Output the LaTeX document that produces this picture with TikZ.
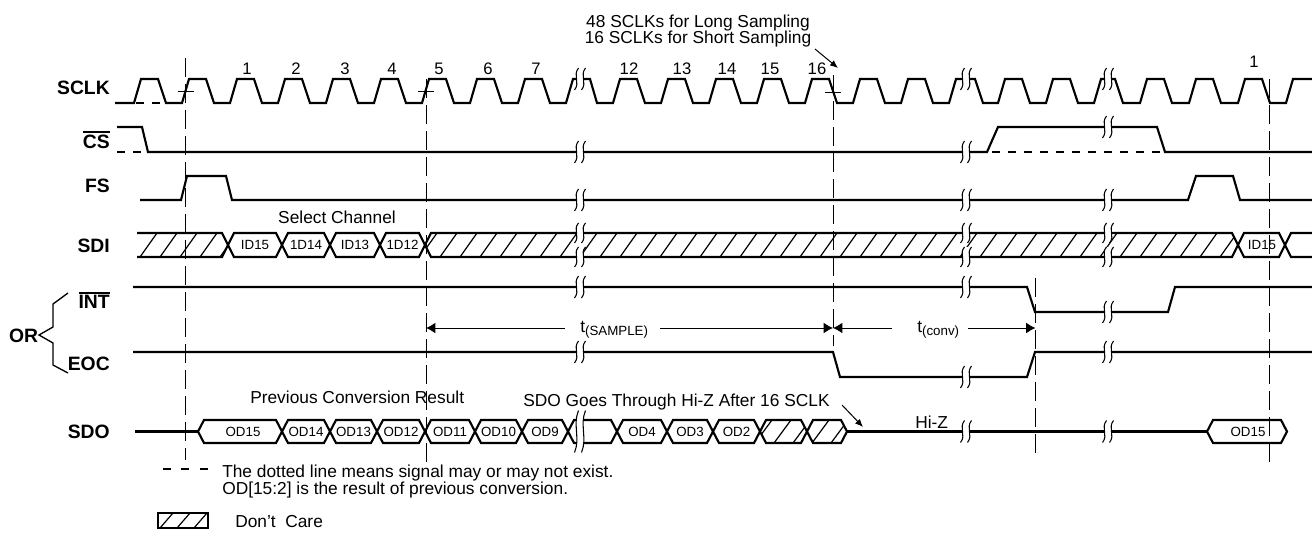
\documentclass[tikz,border=0pt]{standalone}
\usepackage{fontspec}
\setmainfont{Liberation Sans}
\usetikzlibrary{arrows.meta}
\newcommand\myovl[1]{\setbox0=\hbox{#1}\rlap{\rule[\dimexpr\ht0+1.2pt\relax]{\wd0}{1.3pt}}\box0}
\newcommand\brk[3]{%
  \fill[white] ({#1-1.5},{#2-#3}) .. controls ({#1-7.5},{#2-#3/3}) and ({#1+0.5},{#2+#3/3}) .. ({#1-5.5},{#2+#3})
     -- ({#1+1.5},{#2+#3}) .. controls ({#1+7.5},{#2+#3/3}) and ({#1-0.5},{#2-#3/3}) .. ({#1+5.5},{#2-#3}) -- cycle;
  \draw[brkline] ({#1-1.5},{#2-#3}) .. controls ({#1-7.5},{#2-#3/3}) and ({#1+0.5},{#2+#3/3}) .. ({#1-5.5},{#2+#3});
  \draw[brkline] ({#1+5.5},{#2-#3}) .. controls ({#1-0.5},{#2-#3/3}) and ({#1+7.5},{#2+#3/3}) .. ({#1+1.5},{#2+#3});
}
\newcommand\dbox[4]{%
  \draw[sig] (#1,{(#3+#4)/2}) -- ({#1+6},#3) -- ({#2-6},#3) -- (#2,{(#3+#4)/2}) -- ({#2-6},#4) -- ({#1+6},#4) -- cycle;}
\tikzset{
 sig/.style={line width=1.6pt, line join=miter, line cap=butt},
 hatchln/.style={line width=0.9pt},
 brkline/.style={line width=0.8pt},
 vdash/.style={line width=0.65pt, dash pattern=on 14pt off 5.5pt},
 cdash/.style={line width=1.6pt, dash pattern=on 6pt off 6pt},
 thinarr/.style={line width=0.75pt},
 lbl/.style={font=\fontsize{14.5}{16}\selectfont\bfseries, anchor=east, inner sep=0pt},
 txt/.style={font=\fontsize{13}{15}\selectfont, inner sep=0pt},
 num/.style={font=\fontsize{12.5}{14}\selectfont, inner sep=0pt, anchor=base},
 dat/.style={font=\fontsize{10}{12}\selectfont, inner sep=0pt},
 arr/.style={-{Latex[length=7pt,width=8pt]}},
 sarr/.style={-{Latex[length=6pt,width=5pt]}},
}
\begin{document}
\begin{tikzpicture}[x=0.75pt,y=-0.75pt]
\useasboundingbox (0,0) rectangle (1312,532);

% dashed verticals
\coordinate (d1t) at (185.5,58);  \coordinate (d1b) at (185.5,460);
\coordinate (d2t) at (426,79);    \coordinate (d2b) at (426,462);
\coordinate (d3t) at (833,75);    \coordinate (d3b) at (833,346);
\coordinate (d5t) at (1035.5,278);\coordinate (d5b) at (1035.5,458);
\coordinate (d4t) at (1269,79);   \coordinate (d4b) at (1269,463);
\draw[vdash] (d1t) -- (d1b);
\draw[vdash] (d2t) -- (d2b);
\draw[vdash] (d3t) -- (d3b);
\draw[vdash] (d5t) -- (d5b);
\draw[vdash] (d4t) -- (d4b);
% ticks on SCLK
\draw[thinarr] (177.5,91) -- (193.5,91);
\draw[thinarr] (418,91) -- (434,91);
\draw[thinarr] (825,92) -- (841,92);

% labels
\node[lbl] (lsclk) at (110,88) {SCLK};
\node[lbl] (lcs) at (110,140) {\myovl{CS}};
\node[lbl] (lfs) at (110,186) {FS};
\node[lbl] (lsdi) at (110,245.5) {SDI};
\node[lbl] (lint) at (110,300.5) {\myovl{INT}};
\node[lbl] (leoc) at (110,363.5) {EOC};
\node[lbl, anchor=center] (lor) at (23.5,336) {OR};
\node[lbl] (lsdo) at (110,431.5) {SDO};
\draw[line width=1pt] (68,293) -- (53,304) -- (53,327) -- (39,335) -- (53,343) -- (53,365) -- (68,373);

% SCLK
\draw[sig] (115,103) -- (134,103) -- (141,79) -- (158,79) -- (166,103)
  foreach \r in {182,230,...,518} { -- (\r,103) -- (\r+7,79) -- (\r+24,79) -- (\r+32,103) }
  -- (566,103) -- (573,79) -- (590,79) -- (597,103)
  foreach \r in {613,661,...,901} { -- (\r,103) -- (\r+7,79) -- (\r+24,79) -- (\r+32,103) }
  -- (949,103) -- (956,79) -- (975,79) -- (983,103)
  foreach \r in {998,1046} { -- (\r,103) -- (\r+7,79) -- (\r+24,79) -- (\r+32,103) }
  -- (1094,103) -- (1101,79) -- (1115,79) -- (1123,103)
  foreach \r in {1140,1189,1238} { -- (\r,103) -- (\r+7,79) -- (\r+24,79) -- (\r+32,103) }
  -- (1286,103) -- (1293,79) -- (1312,79);
\draw[cdash] (136,103) -- (164,103);
\foreach \n/\x [count=\i] in {1/247,2/296,3/345,4/392,5/439,6/488,7/536,12/629,13/682,14/727,15/770,16/817}
  \node[num] (n\i) at (\x,74) {\n};
\node[num] (nlast) at (1254,67) {1};

% CS
\draw[sig] (117,127) -- (142,127) -- (148,152) -- (987,152) -- (998,127) -- (1157,127) -- (1165,152) -- (1312,152);
\draw[cdash] (117,152) -- (146,152);
\draw[cdash] (992,152) -- (1163,152);

% FS
\draw[sig] (140,200) -- (181,200) -- (187,176) -- (226,176) -- (232,200) -- (1188,200) -- (1196,176) -- (1233,176) -- (1240,200) -- (1312,200);

% SDI hatch
\begin{scope}
\clip (137,233) -- (222,233) -- (228,245) -- (222,257) -- (137,257) -- cycle
      (425,245) -- (431,233) -- (1232,233) -- (1238,245) -- (1232,257) -- (431,257) -- cycle
      (760,431.5) -- (766,420) -- (801,420) -- (807,431.5) -- (801,443) -- (766,443) -- cycle
      (807,431.5) -- (813,420) -- (841,420) -- (847,431.5) -- (841,443) -- (813,443) -- cycle;
\foreach \h in {120,140,...,1240} \draw[hatchln] (\h,257) -- (\h+17,233);
\foreach \h in {755,774,...,850} \draw[hatchln] (\h,443) -- (\h+17,420);
\end{scope}
\draw[sig] (137,233) -- (222,233) -- (228,245) -- (222,257) -- (137,257);
\dbox{228}{282}{233}{257}
\dbox{282}{330}{233}{257}
\dbox{330}{380}{233}{257}
\dbox{380}{425}{233}{257}
\dbox{425}{1238}{233}{257}
\dbox{1238}{1285}{233}{257}
\draw[sig] (1312,233) -- (1291,233) -- (1285,245) -- (1291,257) -- (1312,257);
\node[dat] (i1) at (255,245) {ID15};
\node[dat] (i2) at (306,245) {1D14};
\node[dat] (i3) at (355,245) {ID13};
\node[dat] (i4) at (402.5,245) {1D12};
\node[dat] (i5) at (1262,245) {ID15};
\node[txt, anchor=base] (selch) at (337,223) {Select Channel};

% INT / EOC
\draw[sig] (133,287) -- (1027,287) -- (1035,312) -- (1168,312) -- (1175,287) -- (1312,287);
\draw[sig] (133,352) -- (833,352) -- (840,377) -- (1027,377) -- (1035,352) -- (1312,352);

% timing arrows
\node[txt, anchor=base west] (tsam) at (580,332) {t\raisebox{-2.3pt}{\fontsize{10}{12}\selectfont(SAMPLE)}};
\node[txt, anchor=base west] (tconv) at (917,332) {t\raisebox{-2.3pt}{\fontsize{10}{12}\selectfont(conv)}};
\coordinate (a1) at (426,328); \coordinate (a2) at (833,328); \coordinate (a3) at (1035.5,328);
\draw[thinarr, arr] (565,328) -- (a1);
\draw[thinarr, arr] (660,328) -- (a2);
\draw[thinarr, arr] (892,328) -- (a2);
\draw[thinarr, arr] (968,328) -- (a3);

% SDO
\draw[sig] (135,431.5) -- (198,431.5);
\foreach \a/\b in {198/282,282/330,330/377,377/425,425/475,475/522,522/568,568/617,617/667,667/713,713/760,760/807,807/847}
  \dbox{\a}{\b}{420}{443}
\draw[sig] (847,431.5) -- (1207,431.5);
\dbox{1207}{1287}{420}{443}
\foreach \t/\x [count=\i] in {OD15/243,OD14/306,OD13/353.5,OD12/401,OD11/450,OD10/498.5,OD9/545,OD4/642,OD3/690,OD2/736.5,OD15/1248}
  \node[dat] (o\i) at (\x,432) {\t};
\node[txt, anchor=base west] (prev) at (250,403) {Previous Conversion Result};
\node[txt, anchor=base west] (hiz1) at (523,406) {SDO Goes Through Hi-Z After 16 SCLK};
\node[txt, anchor=base west] (hiz2) at (915,428) {Hi-Z};
\coordinate (h1) at (842,405); \coordinate (h2) at (863,427);
\draw[thinarr, sarr] (h1) -- (h2);

% top annotation
\node[txt, anchor=base] (long) at (698,27.5) {48 SCLKs for Long Sampling};
\node[txt, anchor=base] (short) at (698,43) {16 SCLKs for Short Sampling};
\coordinate (s1) at (815,49); \coordinate (s2) at (838,68);
\draw[thinarr, sarr] (s1) -- (s2);

% breaks
\foreach \bx in {580,966,1108} {
  \brk{\bx}{79}{11}
  \brk{\bx}{200}{11}
  \brk{\bx}{233}{10}
  \brk{\bx}{257}{10}
}
\brk{580}{152}{11} \brk{966}{152}{11} \brk{1108}{127}{11}
\brk{580}{287}{11} \brk{966}{287}{11} \brk{1108}{312}{11}
\brk{580}{352}{11} \brk{966}{377}{11} \brk{1108}{352}{11}
\brk{580}{431.5}{21} \brk{966}{431.5}{11} \brk{1108}{431.5}{11}

% legend
\foreach \dx in {163,181,200} \draw[sig] (\dx,469) -- (\dx+8,469);
\node[txt, anchor=base west] (leg1) at (222,477) {The dotted line means signal may or may not exist.};
\node[txt, anchor=base west] (leg2) at (222,494) {OD[15:2] is the result of previous conversion.};
\begin{scope}
\clip (158,513) rectangle (208,528);
\foreach \h in {160,177,194} \draw[hatchln] (\h,528) -- (\h+13,513);
\end{scope}
\draw[line width=0.9pt] (158,513) rectangle (208,528);
\node[txt, anchor=base west] (leg3) at (235,527) {Don’t\ \ Care};
\end{tikzpicture}
\end{document}
